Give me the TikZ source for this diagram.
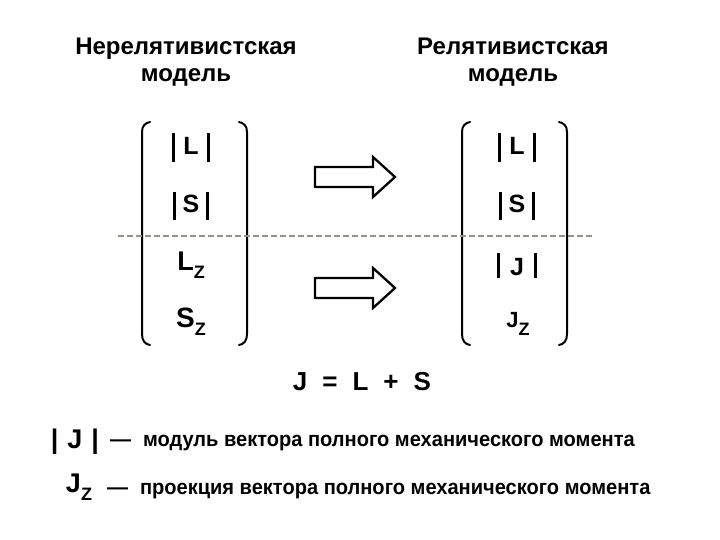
\documentclass[tikz,border=0pt]{standalone}
\usepackage{fontspec}
\setmainfont{Liberation Sans}
\newcommand{\fsz}[1]{\fontsize{#1}{#1}\selectfont}
\newcommand{\zsub}[2]{\raisebox{-#2pt}{\fsz{#1}Z}}
\newcommand{\vb}[2]{\rule[-#1pt]{3pt}{#2pt}}
% depth, total height, gap, letter
\newcommand{\absv}[4]{\vb{#1}{#2}\hspace{#3pt}#4\hspace{#3pt}\vb{#1}{#2}}
\begin{document}
\begin{tikzpicture}[x=1pt,y=-1pt,
  every node/.style={inner sep=0pt, outer sep=0pt, font=\bfseries},
  head/.style={align=center, font=\bfseries\fsz{24}},
  cell/.style={anchor=base, font=\bfseries\fsz{25}},
  brk/.style={line width=2pt, line cap=round},
  blockarrow/.style={line width=2.3pt, line join=miter},
  sep/.style={draw=black!40!yellow!30!gray, line width=1.6pt, dash pattern=on 6pt off 3pt},
  note/.style={anchor=base west, font=\bfseries\fsz{21}},
  big/.style={anchor=base, font=\bfseries\fsz{27}}]
\useasboundingbox (0,0) rectangle (720,540);
% headings
\node[head] (h1) at (186,62) {Нерелятивистская\\[3pt]модель};
\node[head] (h2) at (513,62) {Релятивистская\\[3pt]модель};
% brackets
\draw[brk] (150,122) .. controls (145,123) and (142,126) .. (142,132) -- (142,334) .. controls (142,341) and (145,344) .. (150,345);
\draw[brk] (239,122) .. controls (244,123) and (247,126) .. (247,132) -- (247,334) .. controls (247,341) and (244,344) .. (239,345);
\draw[brk] (470,122) .. controls (465,123) and (462,126) .. (462,132) -- (462,334) .. controls (462,341) and (465,344) .. (470,345);
\draw[brk] (559,122) .. controls (564,123) and (567,126) .. (567,132) -- (567,334) .. controls (567,341) and (564,344) .. (559,345);
% cells
\node[cell] (l1) at (191,155) {\absv{7}{29}{8}{L}};
\node[cell] (l2) at (191,213) {\absv{7}{28}{7}{S}};
\node[cell, font=\bfseries\fsz{27}] (l3) at (191,270) {L\zsub{18}{8}};
\node[cell, font=\bfseries\fsz{28}] (l4) at (191,327) {S\zsub{18}{8}};
\node[cell] (r1) at (517,155) {\absv{7}{29}{8}{L}};
\node[cell] (r2) at (517,213) {\absv{7}{28}{7}{S}};
\node[cell] (r3) at (517,275) {\absv{3}{25}{10}{J}};
\node[cell, font=\bfseries\fsz{22}] (r4) at (518,327) {J\zsub{18}{8}};
% separator
\coordinate (d1) at (118,236);
\coordinate (d2) at (592,236);
\draw[sep] (d1) -- (d2);
% block arrows
\draw[blockarrow] (315,167) -- (373,167) -- (373,157) -- (395,177) -- (373,197) -- (373,187) -- (315,187) -- cycle;
\draw[blockarrow] (315,278) -- (373,278) -- (373,268) -- (395,288) -- (373,308) -- (373,298) -- (315,298) -- cycle;
% formula
\node[anchor=base, font=\bfseries\fsz{26}] (f) at (362,390) {J\hspace{15pt}=\hspace{15pt}L\hspace{15pt}+\hspace{15pt}S};
% notes
\node[big] (j1) at (75,448) {|\,\,J\,\,|};
\node[note] (t1) at (110,446) {—\hspace{12pt}\scalebox{0.955}[1]{модуль вектора полного механического момента}};
\node[big] (j2) at (79,492) {J\zsub{18}{8}};
\node[note] (t2) at (107,494) {—\hspace{12pt}\scalebox{0.955}[1]{проекция вектора полного механического момента}};
\end{tikzpicture}
\end{document}
